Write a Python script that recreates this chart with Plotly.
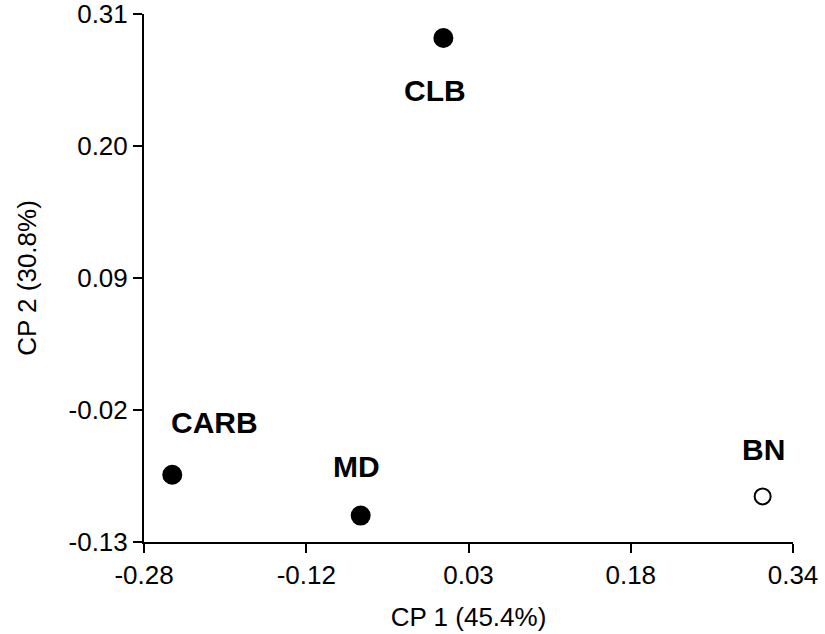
import numpy as np
import plotly.graph_objects as go

# Data
samples = ["CLB", "CARB", "MD", "BN"]
cp1 = [0.006, -0.253, -0.073, 0.311]
cp2 = [0.290, -0.074, -0.108, -0.092]
filled = [True, True, True, False]

x_ticktext = ["-0.28", "-0.12", "0.03", "0.18", "0.34"]
y_ticktext = ["-0.13", "-0.02", "0.09", "0.20", "0.31"]
x_title = "CP 1 (45.4%)"
y_title = "CP 2 (30.8%)"

# label offsets in pixels (style)
label_shift = {"CLB": (-8, -52), "CARB": (42, 52), "MD": (-4, 49), "BN": (1, 47)}

x_min, x_max = -0.28, 0.34
y_min, y_max = -0.13, 0.31
x_tickvals = np.linspace(x_min, x_max, len(x_ticktext))
y_tickvals = np.linspace(y_min, y_max, len(y_ticktext))

FONT = "Liberation Sans, Arial, sans-serif"

fig = go.Figure()
fig.add_trace(go.Scatter(
    x=cp1, y=cp2, mode="markers",
    marker=dict(
        size=[18 if f else 16 for f in filled],
        color=["black" if f else "white" for f in filled],
        line=dict(color="black", width=2),
        opacity=1,
    ),
    showlegend=False, cliponaxis=False, hoverinfo="skip",
))

for name, xv, yv in zip(samples, cp1, cp2):
    dx, dy = label_shift[name]
    fig.add_annotation(
        x=xv, y=yv, text="<b>%s</b>" % name, showarrow=False,
        xshift=dx, yshift=dy,
        font=dict(family=FONT, size=30, color="black"),
    )

axis_common = dict(
    showline=True, linecolor="black", linewidth=2,
    ticks="outside", ticklen=9, tickwidth=2, tickcolor="black",
    showgrid=False, zeroline=False, mirror=False, automargin=False,
    ticklabeloverflow="allow",
    tickfont=dict(family=FONT, size=26, color="black"),
    title_font=dict(family=FONT, size=26, color="black"),
)

fig.update_xaxes(range=[x_min, x_max], tickvals=x_tickvals, ticktext=x_ticktext,
                 title_text=x_title, title_standoff=19, **axis_common)
fig.update_yaxes(range=[y_min, y_max], tickvals=y_tickvals, ticktext=y_ticktext,
                 title_text=y_title, title_standoff=24, **axis_common)

fig.update_layout(
    template="none",
    width=825, height=634,
    margin=dict(l=144, r=32, t=14, b=92, autoexpand=False),
    plot_bgcolor="white", paper_bgcolor="white",
)

fig.write_html(
    "out.html",
    config={"displayModeBar": False, "staticPlot": True},
    post_script="document.body.style.margin='0';document.body.style.overflow='hidden';",
)
